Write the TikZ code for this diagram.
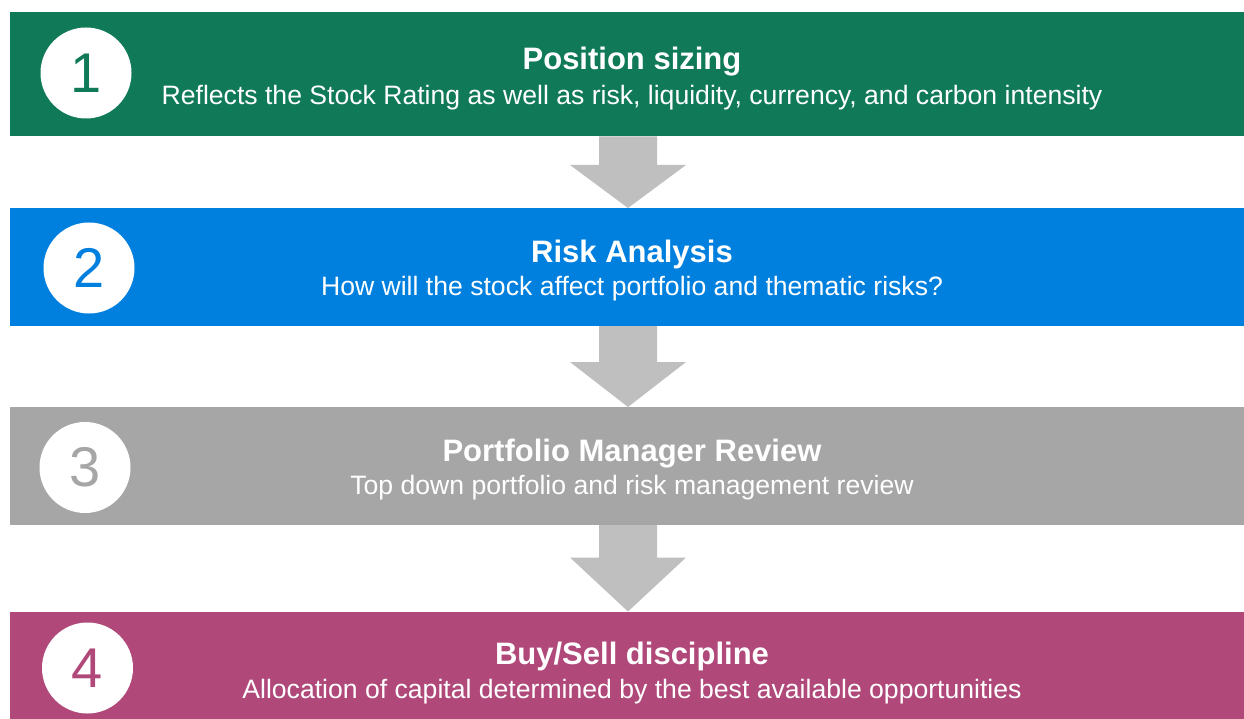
\documentclass[tikz,border=0pt]{standalone}
\usepackage{fontspec}
\setmainfont{Liberation Sans}
\usetikzlibrary{
    positioning,
    calc
}
\definecolor{step green}{RGB}{16,122,88}
\definecolor{step blue}{RGB}{0,128,222}
\definecolor{step grey}{RGB}{166,166,166}
\definecolor{step plum}{RGB}{176,73,121}
\definecolor{arrow grey}{RGB}{191,191,191}
\tikzset{
    % Bands
    band/.style={rectangle,inner sep=0pt,outer sep=0pt,anchor=north west,
        minimum width=1240pt,fill=#1},
    %
    % Number discs
    disc/.style={circle,fill=white,inner sep=0pt,minimum size=91pt,text=#1,
        font=\fontsize{56}{56}\selectfont},
    %
    % Texts
    title/.style={anchor=base,text=white,inner sep=0pt,
        font=\bfseries\fontsize{31}{31}\selectfont},
    subtitle/.style={anchor=base,text=white,inner sep=0pt,
        font=\fontsize{26.6}{26.6}\selectfont},
    %
    % Arrows
    arrow fill/.style={fill=arrow grey}
}
% block arrow from band #1 down to band #2, head height #3
\newcommand{\steparrow}[3]{%
    \fill[arrow fill] ($(#1.south -| ax)+(-29,0)$) -- ($(#2.north -| ax)+(-29,-#3)$)
        -- ($(#2.north -| ax)+(-58,-#3)$) -- (#2.north -| ax)
        -- ($(#2.north -| ax)+(58,-#3)$) -- ($(#2.north -| ax)+(29,-#3)$)
        -- ($(#1.south -| ax)+(29,0)$) -- cycle;
}
\begin{document}
\begin{tikzpicture}[x=1pt,y=-1pt]
    \useasboundingbox (0,0) rectangle (1244,719);
    \clip (0,0) rectangle (1244,719);
    \coordinate (ax) at (628,0);
    \coordinate (tx) at (632,0);

    % the four bands
    \node[band=step green,minimum height=124pt] (b1) at (9.5,12.5) {};
    \node[band=step blue,minimum height=118pt] (b2) at (9.5,208) {};
    \node[band=step grey,minimum height=118pt] (b3) at (9.5,407) {};
    \node[band=step plum,minimum height=118pt] (b4) at (9.5,611.5) {};

    % arrows between them
    \steparrow{b1}{b2}{43}
    \steparrow{b2}{b3}{45}
    \steparrow{b3}{b4}{54}

    % numbers
    \node[disc=step green] (n1) at (86,73) {1};
    \node[disc=step blue] (n2) at (89,268) {2};
    \node[disc=step grey] (n3) at (85,467.5) {3};
    \node[disc=step plum] (n4) at (87.5,668) {4};

    % titles and lines below
    \node[title] (t1) at ($(b1.north -| tx)+(0,57)$) {Position sizing};
    \node[subtitle] (s1) at ($(b1.north -| tx)+(0,92)$) {Reflects the Stock Rating as well as risk, liquidity, currency, and carbon intensity};
    \node[title] (t2) at ($(b2.north -| tx)+(0,54)$) {Risk Analysis};
    \node[subtitle] (s2) at ($(b2.north -| tx)+(0,87)$) {How will the stock affect portfolio and thematic risks?};
    \node[title] (t3) at ($(b3.north -| tx)+(0,54)$) {Portfolio Manager Review};
    \node[subtitle] (s3) at ($(b3.north -| tx)+(0,87)$) {Top down portfolio and risk management review};
    \node[title] (t4) at ($(b4.north -| tx)+(0,52.5)$) {Buy/Sell discipline};
    \node[subtitle] (s4) at ($(b4.north -| tx)+(0,86.5)$) {Allocation of capital determined by the best available opportunities};
\end{tikzpicture}
\end{document}
